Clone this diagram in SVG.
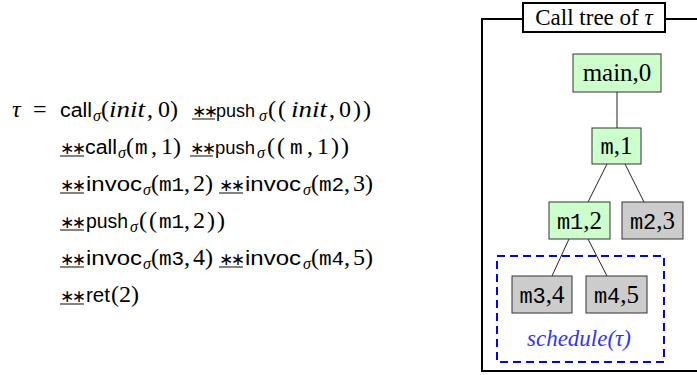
<svg xmlns="http://www.w3.org/2000/svg" width="697" height="375" viewBox="0 0 697 375">
<style>
text{fill:#000}
.sf{font-family:"Liberation Sans",Arial,sans-serif;font-size:20px}
.rm{font-family:"Liberation Serif","Times New Roman",serif;font-size:24px}
.pp{letter-spacing:2px}
.it{font-family:"Liberation Serif","Times New Roman",serif;font-style:italic;font-size:24px}
.tt{font-family:"Liberation Mono","Courier New",monospace;font-size:21px}
.sub{font-family:"Liberation Serif",serif;font-style:italic;font-size:16px}
.ast{font-family:"DejaVu Sans",sans-serif;font-size:17px;letter-spacing:-2.5px}
.ul{stroke:#333;stroke-width:1.2}
.frame{fill:none;stroke:#000;stroke-width:2}
.title{fill:#fff;stroke:#000;stroke-width:2}
.node rect{stroke:#333;stroke-width:1}
.g rect{fill:#ccffcc}
.y rect{fill:#cccccc}
.nt{font-family:"Liberation Serif","Times New Roman",serif;font-size:25px;text-anchor:middle}
.nm{font-family:"Liberation Mono","Courier New",monospace;font-size:22px}
.edge{stroke:#222;stroke-width:1}
.sched{fill:none;stroke:#0000ff;stroke-width:2;stroke-dasharray:8 5}
</style>
<g id="formula">
  <text y="117"><tspan x="12" class="it">τ</tspan><tspan x="33" class="rm">=</tspan><tspan x="60" class="sf" textLength="32" lengthAdjust="spacingAndGlyphs">call</tspan><tspan x="93" y="121" class="sub">σ</tspan><tspan x="101" y="117" class="rm">(</tspan><tspan x="109" class="it" textLength="36" lengthAdjust="spacingAndGlyphs">init</tspan><tspan x="147" class="rm">,</tspan><tspan x="158" class="rm">0)</tspan><tspan x="192" class="ast">∗∗</tspan><tspan x="216" class="sf" style="font-size:18px" textLength="39" lengthAdjust="spacingAndGlyphs">push</tspan><tspan x="259" y="121" class="sub">σ</tspan><tspan x="268" y="117" class="rm pp">((</tspan><tspan x="291" class="it" textLength="36" lengthAdjust="spacingAndGlyphs">init</tspan><tspan x="329" class="rm">,</tspan><tspan x="339" class="rm pp">0))</tspan></text>
  <text y="154"><tspan x="60" class="ast">∗∗</tspan><tspan x="85" class="sf" textLength="32" lengthAdjust="spacingAndGlyphs">call</tspan><tspan x="118" y="158" class="sub">σ</tspan><tspan x="126" y="154" class="rm">(</tspan><tspan x="135" class="tt">m</tspan><tspan x="151" class="rm">,</tspan><tspan x="161" class="rm">1)</tspan><tspan x="190" class="ast">∗∗</tspan><tspan x="215" class="sf" style="font-size:18px" textLength="40" lengthAdjust="spacingAndGlyphs">push</tspan><tspan x="257" y="158" class="sub">σ</tspan><tspan x="267" y="154" class="rm pp">((</tspan><tspan x="290" class="tt">m</tspan><tspan x="307" class="rm">,</tspan><tspan x="317" class="rm pp">1))</tspan></text>
  <text y="191"><tspan x="60" class="ast">∗∗</tspan><tspan x="86" class="sf" textLength="56" lengthAdjust="spacingAndGlyphs">invoc</tspan><tspan x="143" y="195" class="sub">σ</tspan><tspan x="151" y="191" class="rm">(</tspan><tspan x="159" class="tt">m1</tspan><tspan x="184" class="rm">,</tspan><tspan x="193" class="rm">2)</tspan><tspan x="219" class="ast">∗∗</tspan><tspan x="245" class="sf" textLength="56" lengthAdjust="spacingAndGlyphs">invoc</tspan><tspan x="303" y="195" class="sub">σ</tspan><tspan x="311" y="191" class="rm">(</tspan><tspan x="319" class="tt">m2</tspan><tspan x="344" class="rm">,</tspan><tspan x="353" class="rm">3)</tspan></text>
  <text y="228"><tspan x="60" class="ast">∗∗</tspan><tspan x="86" class="sf" textLength="42" lengthAdjust="spacingAndGlyphs">push</tspan><tspan x="130" y="232" class="sub">σ</tspan><tspan x="139" y="228" class="rm pp">((</tspan><tspan x="159" class="tt">m1</tspan><tspan x="184" class="rm">,</tspan><tspan x="193" class="rm pp">2))</tspan></text>
  <text y="265"><tspan x="60" class="ast">∗∗</tspan><tspan x="86" class="sf" textLength="56" lengthAdjust="spacingAndGlyphs">invoc</tspan><tspan x="143" y="269" class="sub">σ</tspan><tspan x="151" y="265" class="rm">(</tspan><tspan x="159" class="tt">m3</tspan><tspan x="184" class="rm">,</tspan><tspan x="193" class="rm">4)</tspan><tspan x="219" class="ast">∗∗</tspan><tspan x="245" class="sf" textLength="56" lengthAdjust="spacingAndGlyphs">invoc</tspan><tspan x="303" y="269" class="sub">σ</tspan><tspan x="311" y="265" class="rm">(</tspan><tspan x="319" class="tt">m4</tspan><tspan x="344" class="rm">,</tspan><tspan x="353" class="rm">5)</tspan></text>
  <text y="302"><tspan x="60" class="ast">∗∗</tspan><tspan x="86" class="sf" textLength="24" lengthAdjust="spacingAndGlyphs">ret</tspan><tspan x="111" class="rm">(2)</tspan></text>
  <g class="ul">
    <line x1="192" y1="119" x2="215" y2="119"/>
    <line x1="60" y1="156" x2="84" y2="156"/>
    <line x1="190" y1="156" x2="213" y2="156"/>
    <line x1="60" y1="193" x2="84" y2="193"/>
    <line x1="219" y1="193" x2="243" y2="193"/>
    <line x1="60" y1="230" x2="84" y2="230"/>
    <line x1="60" y1="267" x2="84" y2="267"/>
    <line x1="219" y1="267" x2="243" y2="267"/>
    <line x1="60" y1="304" x2="84" y2="304"/>
  </g>
</g>
<g id="frame">
  <path class="frame" d="M700,19 H482 V371 H700"/>
  <rect class="title" x="523" y="3" width="142" height="29"/>
  <text x="594" y="25" class="rm" style="font-size:23px" text-anchor="middle">Call tree of <tspan class="it" style="font-size:23px">τ</tspan></text>
</g>
<g id="connectors">
  <line class="edge" x1="617" y1="92" x2="617" y2="128"/>
  <line class="edge" x1="607" y1="164" x2="588" y2="202"/>
  <line class="edge" x1="625" y1="164" x2="644" y2="202"/>
  <line class="edge" x1="569" y1="239" x2="552" y2="276"/>
  <line class="edge" x1="588" y1="239" x2="607" y2="276"/>
</g>
<g id="main0" class="node g">
  <rect x="573" y="54" width="88" height="38"/>
  <text class="nt" x="617" y="81">main,0</text>
</g>
<g id="m1" class="node g">
  <rect x="592" y="128" width="49" height="36"/>
  <text class="nt" x="616.5" y="154"><tspan class="nm">m</tspan>,1</text>
</g>
<g id="m12" class="node g">
  <rect x="549" y="202" width="61" height="37"/>
  <text class="nt" x="579.5" y="229"><tspan class="nm">m1</tspan>,2</text>
</g>
<g id="m23" class="node y">
  <rect x="622" y="202" width="61" height="37"/>
  <text class="nt" x="652.5" y="229"><tspan class="nm">m2</tspan>,3</text>
</g>
<g id="m34" class="node y">
  <rect x="512" y="276" width="60" height="37"/>
  <text class="nt" x="542" y="303"><tspan class="nm">m3</tspan>,4</text>
</g>
<g id="m45" class="node y">
  <rect x="586" y="276" width="61" height="37"/>
  <text class="nt" x="616.5" y="303"><tspan class="nm">m4</tspan>,5</text>
</g>
<g id="schedule">
  <rect class="sched" x="497" y="256" width="167" height="106"/>
  <text x="579" y="346" class="it" style="font-size:23px;fill:#3333ff" text-anchor="middle">schedule(τ)</text>
</g>
</svg>
